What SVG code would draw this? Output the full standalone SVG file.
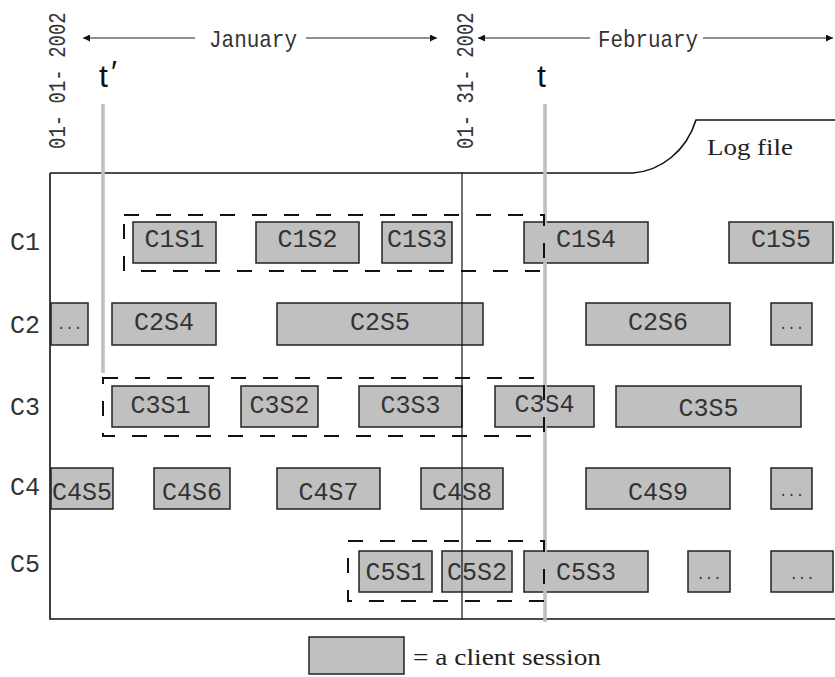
<svg xmlns="http://www.w3.org/2000/svg" width="835" height="677" viewBox="0 0 835 677">
<style>
.bg{fill:#ffffff}
.box{fill:#c0c0c0;stroke:#222;stroke-width:1.5}
.lbl{font-family:"Liberation Mono","DejaVu Sans Mono",monospace;font-size:25px;fill:#333;text-anchor:middle}
.row{font-family:"Liberation Mono","DejaVu Sans Mono",monospace;font-size:25px;fill:#333}
.dots{font-family:"Liberation Mono","DejaVu Sans Mono",monospace;font-size:14px;fill:#333;text-anchor:middle}
.mono{font-family:"Liberation Mono","DejaVu Sans Mono",monospace;font-size:24px;fill:#333}
.date{font-family:"Liberation Mono","DejaVu Sans Mono",monospace;font-size:19px;fill:#333}
.serif{font-family:"Liberation Serif","DejaVu Serif",serif;font-size:23px;fill:#222}
.sans{font-family:"Liberation Sans","DejaVu Sans",sans-serif;font-size:32px;fill:#111}
.frame{fill:none;stroke:#111;stroke-width:1.6}
.div{fill:none;stroke:#111;stroke-width:1.2}
.gray{fill:none;stroke:#c0c0c0;stroke-width:3.6}
.dash{fill:none;stroke:#111;stroke-width:2;stroke-dasharray:15 17}
.arr{fill:none;stroke:#222;stroke-width:1.2}
</style>
<defs>
<marker id="ah" viewBox="0 0 10 10" refX="10" refY="5" markerWidth="9" markerHeight="7" markerUnits="userSpaceOnUse" orient="auto-start-reverse">
<path d="M0,0 L10,5 L0,10 z" fill="#111"/>
</marker>
</defs>
<rect class="bg" x="0" y="0" width="835" height="677"/>

<g id="timeline">
<text class="date" transform="translate(65,149) rotate(-90) scale(1,1.3)">01- 01- 2002</text>
<text class="date" transform="translate(473,149) rotate(-90) scale(1,1.3)">01- 31- 2002</text>
<text class="mono" x="209" y="47" textLength="88" lengthAdjust="spacingAndGlyphs">January</text>
<text class="mono" x="598" y="47" textLength="100" lengthAdjust="spacingAndGlyphs">February</text>
<text class="sans" x="99" y="87">t</text>
<text class="sans" x="111" y="83" font-size="20">′</text>
<text class="sans" x="537" y="87">t</text>
</g>

<g id="connectors">
<line class="arr" x1="195" y1="38" x2="83" y2="38" marker-end="url(#ah)"/>
<line class="arr" x1="306" y1="38" x2="437" y2="38" marker-end="url(#ah)"/>
<line class="arr" x1="590" y1="38" x2="478" y2="38" marker-end="url(#ah)"/>
<line class="arr" x1="703" y1="38" x2="833" y2="38" marker-end="url(#ah)"/>
</g>

<g id="logfile">
<path class="frame" d="M50,173 L633,173 C660,171 686,152 696,120 L835,120"/>
<path class="frame" d="M50,173 L50,619 L835,619"/>
<text class="serif" x="707" y="155" textLength="86" lengthAdjust="spacingAndGlyphs">Log file</text>
</g>

<g id="rowlabels">
<text class="row" x="10" y="250">C1</text>
<text class="row" x="10" y="333">C2</text>
<text class="row" x="10" y="415">C3</text>
<text class="row" x="10" y="495">C4</text>
<text class="row" x="10" y="572">C5</text>
</g>

<g id="C1S1"><rect class="box" x="133" y="222" width="83" height="41"/><text class="lbl" x="174.5" y="247">C1S1</text></g>
<g id="C1S2"><rect class="box" x="256" y="222" width="103" height="41"/><text class="lbl" x="307.5" y="247">C1S2</text></g>
<g id="C1S3"><rect class="box" x="382" y="222" width="70" height="41"/><text class="lbl" x="417" y="247">C1S3</text></g>
<g id="C1S4"><rect class="box" x="524" y="222" width="124" height="41"/><text class="lbl" x="586" y="247">C1S4</text></g>
<g id="C1S5"><rect class="box" x="729" y="222" width="104" height="41"/><text class="lbl" x="781" y="247">C1S5</text></g>

<g id="C2S3"><rect class="box" x="51" y="303" width="37" height="42"/><text class="dots" x="69.5" y="329">...</text></g>
<g id="C2S4"><rect class="box" x="112" y="303" width="104" height="42"/><text class="lbl" x="164" y="330">C2S4</text></g>
<g id="C2S5"><rect class="box" x="277" y="303" width="206" height="42"/><text class="lbl" x="380" y="330">C2S5</text></g>
<g id="C2S6"><rect class="box" x="586" y="303" width="144" height="42"/><text class="lbl" x="658" y="330">C2S6</text></g>
<g id="C2S7"><rect class="box" x="771" y="303" width="41" height="42"/><text class="dots" x="791.5" y="329">...</text></g>

<g id="C3S1"><rect class="box" x="112" y="386" width="97" height="41"/><text class="lbl" x="160.5" y="413">C3S1</text></g>
<g id="C3S2"><rect class="box" x="241" y="386" width="77" height="41"/><text class="lbl" x="279.5" y="413">C3S2</text></g>
<g id="C3S3"><rect class="box" x="359" y="386" width="103" height="41"/><text class="lbl" x="410.5" y="413">C3S3</text></g>
<g id="C3S4"><rect class="box" x="495" y="386" width="99" height="41"/><text class="lbl" x="544.5" y="412">C3S4</text></g>
<g id="C3S5"><rect class="box" x="616" y="386" width="185" height="41"/><text class="lbl" x="708.5" y="416">C3S5</text></g>

<g id="C4S5"><rect class="box" x="51" y="468" width="62" height="41"/><text class="lbl" x="82" y="500">C4S5</text></g>
<g id="C4S6"><rect class="box" x="154" y="468" width="76" height="41"/><text class="lbl" x="192" y="500">C4S6</text></g>
<g id="C4S7"><rect class="box" x="277" y="468" width="103" height="41"/><text class="lbl" x="328.5" y="500">C4S7</text></g>
<g id="C4S8"><rect class="box" x="421" y="468" width="82" height="41"/><text class="lbl" x="462" y="500">C4S8</text></g>
<g id="C4S9"><rect class="box" x="586" y="468" width="144" height="41"/><text class="lbl" x="658" y="500">C4S9</text></g>
<g id="C4S10"><rect class="box" x="771" y="468" width="41" height="41"/><text class="dots" x="791.5" y="496">...</text></g>

<g id="C5S1"><rect class="box" x="359" y="551" width="73" height="41"/><text class="lbl" x="395.5" y="580">C5S1</text></g>
<g id="C5S2"><rect class="box" x="442" y="551" width="70" height="41"/><text class="lbl" x="477" y="580">C5S2</text></g>
<g id="C5S3"><rect class="box" x="524" y="551" width="124" height="41"/><text class="lbl" x="586" y="580">C5S3</text></g>
<g id="C5S4"><rect class="box" x="688" y="551" width="42" height="41"/><text class="dots" x="709" y="579">...</text></g>
<g id="C5S5"><rect class="box" x="771" y="551" width="62" height="41"/><text class="dots" x="802" y="579">...</text></g>

<g id="markers">
<line class="gray" x1="103" y1="104" x2="103" y2="373"/>
<line class="gray" x1="545" y1="104" x2="545" y2="622"/>
<line class="div" x1="462" y1="173" x2="462" y2="619"/>
</g>

<g id="windows">
<rect class="dash" x="124" y="215" width="420" height="56"/>
<rect class="dash" x="103" y="378" width="441" height="58"/>
<rect class="dash" x="348" y="541" width="196" height="60"/>
</g>

<g id="legend">
<rect class="box" x="309" y="637" width="95" height="37"/>
<text class="serif" x="413" y="665" textLength="188" lengthAdjust="spacingAndGlyphs">= a client session</text>
</g>
</svg>
